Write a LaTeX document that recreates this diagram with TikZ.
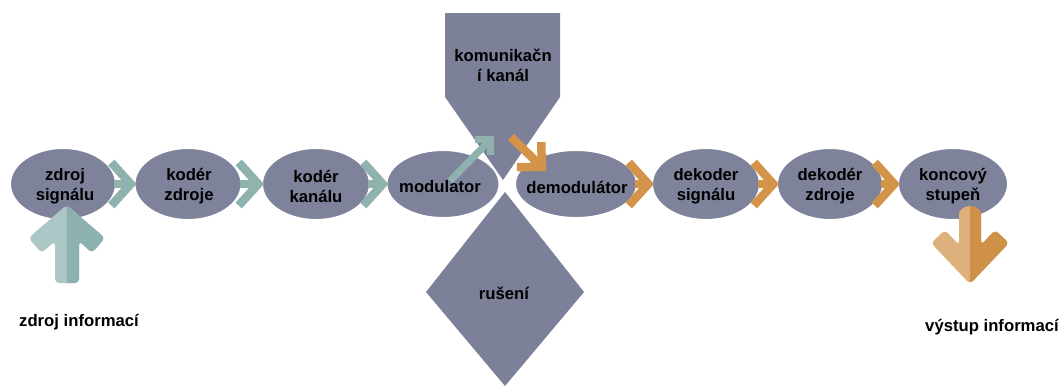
\documentclass[tikz,border=0pt]{standalone}
\usepackage{fontspec}
\setmainfont{Liberation Sans}
\usetikzlibrary{shapes.geometric,arrows.meta}

\definecolor{ellfill}{RGB}{126,130,154}
\definecolor{ellrim}{RGB}{100,103,128}
\definecolor{blockfill}{RGB}{124,128,152}
\definecolor{tealA}{RGB}{143,178,175}
\definecolor{tealL}{RGB}{172,200,198}
\definecolor{tealD}{RGB}{141,177,174}
\definecolor{orngA}{RGB}{211,148,74}
\definecolor{orngL}{RGB}{222,176,124}
\definecolor{orngD}{RGB}{207,144,72}

% flat centre, darker rim
\pgfdeclareradialshading{ellshade}{\pgfpoint{0bp}{3bp}}{%
  color(0bp)=(ellfill); color(38bp)=(ellfill); color(53bp)=(ellrim)}

% big input / output arrows
\newcommand{\srcarrowpath}{(66.7,205) -- (105,238) -- (92,253) -- (79,241) -- (79,283) -- (55,283) -- (55,241) -- (41.5,253) -- (28.5,238) -- cycle}
\newcommand{\sinkarrowpath}{(970,284) -- (1009,243) -- (995,230) -- (981,245) -- (981,217) arc[start angle=0,end angle=-180,radius=11] -- (959,245) -- (945,230) -- (931,243) -- cycle}

\begin{document}
\begin{tikzpicture}[x=0.02cm,y=-0.02cm,
  ell/.style 2 args={ellipse, inner sep=0pt, minimum width=#1*0.02cm,
    minimum height=#2*0.02cm, shading=ellshade, draw=white, line width=0.4mm},
  lbl/.style={font=\fontsize{9.5}{11.4}\selectfont\bfseries, align=center, inner sep=0pt},
  chev/.style={line width=1.7mm, shorten <=-0.6mm, shorten >=-0.6mm,
    -{Straight Barb[length=3.9mm,width=8.6mm,line width=1.7mm]}},
  chevT/.style={chev, draw=tealA},
  chevO/.style={chev, draw=orngA},
]
\useasboundingbox (0,0) rectangle (1060,387);

% communication channel and noise blocks
\fill[blockfill] (445,13) -- (560,13) -- (560,97) -- (503,180) -- (445,97) -- cycle;
\node[lbl] (chan) at (503,65) {komunikačn\\í kanál};
\fill[blockfill] (505,192) -- (584,292) -- (505,386) -- (426,292) -- cycle;
\node[lbl] (noise) at (504,293) {rušení};

% processing stages
\node[ell={106}{72}] (zs)  at (63,184)  {};
\node[ell={107}{72}] (kz)  at (188,184) {};
\node[ell={108}{72}] (kk)  at (316,184) {};
\node[ell={113}{68}] (mod) at (443,184) {};
\node[ell={122}{68}] (dem) at (576,184) {};
\node[ell={108}{72}] (ds)  at (706,184) {};
\node[ell={106}{72}] (dz)  at (830,184) {};
\node[ell={110}{72}] (ks)  at (953,184) {};

\node[lbl] (zs-t)  at (65,186)  {zdroj\\signálu};
\node[lbl] (kz-t)  at (189,186) {kodér\\zdroje};
\node[lbl] (kk-t)  at (316,186) {kodér\\kanálu};
\node[lbl] (mod-t) at (440,187) {modulator};
\node[lbl] (dem-t) at (577,187) {demodulátor};
\node[lbl] (ds-t)  at (706,186) {dekoder\\signálu};
\node[lbl] (dz-t)  at (830,186) {dekodér\\zdroje};
\node[lbl] (ks-t)  at (953,186) {koncový\\stupeň};

% chain of chevron arrows
\draw[chevT] (zs.east) -- (kz.west);
\draw[chevT] (kz.east) -- (kk.west);
\draw[chevT] (kk.east) -- (mod.west);
\draw[chevO] (dem.east) -- (ds.west);
\draw[chevO] (ds.east) -- (dz.west);
\draw[chevO] (dz.east) -- (ks.west);

% into and out of the channel
\coordinate (modout)  at (450,181);
\coordinate (chanin)  at (494,136);
\coordinate (chanout) at (511,137);
\coordinate (demin)   at (546,171);
\draw[line width=1.4mm, draw=tealA,
  -{Straight Barb[length=2.2mm,width=4.4mm,line width=1.4mm]}] (modout) -- (chanin);
\draw[line width=1.7mm, draw=orngA,
  -{Straight Barb[length=3.5mm,width=7mm,line width=1.7mm]}] (chanout) -- (demin);

% information source arrow
\fill[tealL, rounded corners=0.8mm] \srcarrowpath;
\begin{scope}
  \clip (66.7,190) rectangle (120,290);
  \fill[tealD, rounded corners=0.8mm] \srcarrowpath;
\end{scope}

% information output arrow
\fill[orngL, rounded corners=0.8mm] \sinkarrowpath;
\begin{scope}
  \clip (970,190) rectangle (1020,290);
  \fill[orngD, rounded corners=0.8mm] \sinkarrowpath;
\end{scope}

\node[lbl] (src) at (79,322)  {zdroj informací};
\node[lbl] (out) at (992,327) {výstup informací};
\end{tikzpicture}
\end{document}
